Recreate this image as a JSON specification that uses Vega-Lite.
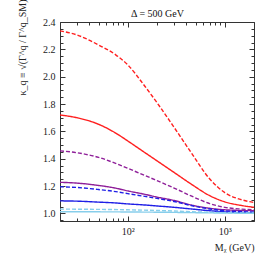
{
  "$schema": "https://vega.github.io/schema/vega-lite/v6.json",
  "autosize": "none",
  "width": 194,
  "height": 199,
  "padding": {"left": 60, "top": 22, "right": 12, "bottom": 45},
  "background": "white",
  "config": {
    "view": {"stroke": null},
    "font": "Liberation Serif",
    "axis": {"labelFont": "Liberation Serif", "titleFont": "Liberation Serif", "labelColor": "#222", "titleColor": "#222", "domainColor": "#333", "tickColor": "#333", "grid": false, "labelFontSize": 10, "titleFontSize": 10, "titleFontWeight": "normal"}
  },
  "data": {"values": [
    {"s":"rd","c":"red","d":"dashed","m":20,"k":2.335},{"s":"rd","c":"red","d":"dashed","m":30,"k":2.305},{"s":"rd","c":"red","d":"dashed","m":50,"k":2.232},{"s":"rd","c":"red","d":"dashed","m":75,"k":2.16},{"s":"rd","c":"red","d":"dashed","m":100,"k":2.086},{"s":"rd","c":"red","d":"dashed","m":150,"k":1.93},{"s":"rd","c":"red","d":"dashed","m":200,"k":1.81},{"s":"rd","c":"red","d":"dashed","m":300,"k":1.63},{"s":"rd","c":"red","d":"dashed","m":450,"k":1.445},{"s":"rd","c":"red","d":"dashed","m":700,"k":1.252},{"s":"rd","c":"red","d":"dashed","m":1000,"k":1.152},{"s":"rd","c":"red","d":"dashed","m":1500,"k":1.1},{"s":"rd","c":"red","d":"dashed","m":2000,"k":1.08},
    {"s":"rs","c":"red","d":"solid","m":20,"k":1.72},{"s":"rs","c":"red","d":"solid","m":30,"k":1.7},{"s":"rs","c":"red","d":"solid","m":50,"k":1.652},{"s":"rs","c":"red","d":"solid","m":75,"k":1.588},{"s":"rs","c":"red","d":"solid","m":100,"k":1.53},{"s":"rs","c":"red","d":"solid","m":150,"k":1.445},{"s":"rs","c":"red","d":"solid","m":200,"k":1.385},{"s":"rs","c":"red","d":"solid","m":300,"k":1.3},{"s":"rs","c":"red","d":"solid","m":450,"k":1.215},{"s":"rs","c":"red","d":"solid","m":700,"k":1.13},{"s":"rs","c":"red","d":"solid","m":1000,"k":1.085},{"s":"rs","c":"red","d":"solid","m":1500,"k":1.058},{"s":"rs","c":"red","d":"solid","m":2000,"k":1.045},
    {"s":"pd","c":"purple","d":"dashed","m":20,"k":1.458},{"s":"pd","c":"purple","d":"dashed","m":30,"k":1.444},{"s":"pd","c":"purple","d":"dashed","m":50,"k":1.41},{"s":"pd","c":"purple","d":"dashed","m":75,"k":1.366},{"s":"pd","c":"purple","d":"dashed","m":100,"k":1.33},{"s":"pd","c":"purple","d":"dashed","m":150,"k":1.278},{"s":"pd","c":"purple","d":"dashed","m":200,"k":1.24},{"s":"pd","c":"purple","d":"dashed","m":300,"k":1.186},{"s":"pd","c":"purple","d":"dashed","m":450,"k":1.128},{"s":"pd","c":"purple","d":"dashed","m":700,"k":1.072},{"s":"pd","c":"purple","d":"dashed","m":1000,"k":1.045},{"s":"pd","c":"purple","d":"dashed","m":1500,"k":1.032},{"s":"pd","c":"purple","d":"dashed","m":2000,"k":1.026},
    {"s":"ps","c":"purple","d":"solid","m":20,"k":1.228},{"s":"ps","c":"purple","d":"solid","m":30,"k":1.222},{"s":"ps","c":"purple","d":"solid","m":50,"k":1.205},{"s":"ps","c":"purple","d":"solid","m":75,"k":1.185},{"s":"ps","c":"purple","d":"solid","m":100,"k":1.165},{"s":"ps","c":"purple","d":"solid","m":150,"k":1.14},{"s":"ps","c":"purple","d":"solid","m":200,"k":1.12},{"s":"ps","c":"purple","d":"solid","m":300,"k":1.095},{"s":"ps","c":"purple","d":"solid","m":450,"k":1.062},{"s":"ps","c":"purple","d":"solid","m":700,"k":1.038},{"s":"ps","c":"purple","d":"solid","m":1000,"k":1.027},{"s":"ps","c":"purple","d":"solid","m":1500,"k":1.022},{"s":"ps","c":"purple","d":"solid","m":2000,"k":1.02},
    {"s":"bd","c":"blue","d":"dashed","m":20,"k":1.195},{"s":"bd","c":"blue","d":"dashed","m":30,"k":1.19},{"s":"bd","c":"blue","d":"dashed","m":50,"k":1.175},{"s":"bd","c":"blue","d":"dashed","m":75,"k":1.16},{"s":"bd","c":"blue","d":"dashed","m":100,"k":1.145},{"s":"bd","c":"blue","d":"dashed","m":150,"k":1.125},{"s":"bd","c":"blue","d":"dashed","m":200,"k":1.11},{"s":"bd","c":"blue","d":"dashed","m":300,"k":1.088},{"s":"bd","c":"blue","d":"dashed","m":450,"k":1.058},{"s":"bd","c":"blue","d":"dashed","m":700,"k":1.033},{"s":"bd","c":"blue","d":"dashed","m":1000,"k":1.02},{"s":"bd","c":"blue","d":"dashed","m":1500,"k":1.013},{"s":"bd","c":"blue","d":"dashed","m":2000,"k":1.01},
    {"s":"bs","c":"blue","d":"solid","m":20,"k":1.092},{"s":"bs","c":"blue","d":"solid","m":30,"k":1.09},{"s":"bs","c":"blue","d":"solid","m":50,"k":1.083},{"s":"bs","c":"blue","d":"solid","m":75,"k":1.077},{"s":"bs","c":"blue","d":"solid","m":100,"k":1.07},{"s":"bs","c":"blue","d":"solid","m":150,"k":1.062},{"s":"bs","c":"blue","d":"solid","m":200,"k":1.055},{"s":"bs","c":"blue","d":"solid","m":300,"k":1.045},{"s":"bs","c":"blue","d":"solid","m":450,"k":1.033},{"s":"bs","c":"blue","d":"solid","m":700,"k":1.02},{"s":"bs","c":"blue","d":"solid","m":1000,"k":1.012},{"s":"bs","c":"blue","d":"solid","m":1500,"k":1.007},{"s":"bs","c":"blue","d":"solid","m":2000,"k":1.005},
    {"s":"ld","c":"lightblue","d":"dashed","m":20,"k":1.032},{"s":"ld","c":"lightblue","d":"dashed","m":50,"k":1.03},{"s":"ld","c":"lightblue","d":"dashed","m":100,"k":1.027},{"s":"ld","c":"lightblue","d":"dashed","m":200,"k":1.022},{"s":"ld","c":"lightblue","d":"dashed","m":300,"k":1.018},{"s":"ld","c":"lightblue","d":"dashed","m":450,"k":1.013},{"s":"ld","c":"lightblue","d":"dashed","m":700,"k":1.009},{"s":"ld","c":"lightblue","d":"dashed","m":1000,"k":1.006},{"s":"ld","c":"lightblue","d":"dashed","m":2000,"k":1.003},
    {"s":"ls","c":"lightblue","d":"solid","m":20,"k":1.013},{"s":"ls","c":"lightblue","d":"solid","m":100,"k":1.011},{"s":"ls","c":"lightblue","d":"solid","m":300,"k":1.008},{"s":"ls","c":"lightblue","d":"solid","m":1000,"k":1.003},{"s":"ls","c":"lightblue","d":"solid","m":2000,"k":1.001}
  ]},
  "resolve": {"axis": {"x": "independent", "y": "independent"}},
  "layer": [
    {
      "mark": {"type": "line", "interpolate": "monotone", "strokeWidth": 1.4, "clip": true},
      "encoding": {
        "x": {"field": "m", "type": "quantitative", "scale": {"type": "log", "domain": [20, 2000], "nice": false},
          "axis": {"orient": "bottom", "title": "Mᵪ (GeV)", "values": [20,30,40,50,60,70,80,90,100,200,300,400,500,600,700,800,900,1000,2000],
            "labelExpr": "datum.value == 100 ? '10²' : datum.value == 1000 ? '10³' : ''", "labelOverlap": false, "labelFlush": false,
            "tickSize": {"condition": {"test": "datum.value == 100 || datum.value == 1000", "value": -5}, "value": -3},
            "labelPadding": 10, "titleAnchor": "end", "titleX": 194, "titleY": 26, "titleAlign": "right", "titleBaseline": "middle"}},
        "y": {"field": "k", "type": "quantitative", "scale": {"domain": [0.945, 2.4], "nice": false, "zero": false},
          "axis": {"orient": "left", "title": "κ_q ≡ √(Γ^q / Γ^q_SM)", "values": [0.95,1.0,1.05,1.1,1.15,1.2,1.25,1.3,1.35,1.4,1.45,1.5,1.55,1.6,1.65,1.7,1.75,1.8,1.85,1.9,1.95,2.0,2.05,2.1,2.15,2.2,2.25,2.3,2.35,2.4],
            "labelExpr": "abs(datum.value*5 - round(datum.value*5)) < 0.001 ? format(datum.value, '.1f') : ''", "labelOverlap": false, "labelFlush": false,
            "tickSize": {"condition": {"test": "abs(datum.value*5 - round(datum.value*5)) < 0.001", "value": -5}, "value": -3},
            "labelPadding": 10, "titleX": -38, "titleY": -23, "titleAngle": -90, "titleAlign": "right", "titleBaseline": "middle"}},
        "color": {"field": "c", "type": "nominal", "scale": {"domain": ["red", "purple", "blue", "lightblue"], "range": ["#ff1f1f", "#8f1f99", "#1f1fe6", "#87ceeb"]}, "legend": null},
        "strokeDash": {"field": "d", "type": "nominal", "scale": {"domain": ["solid", "dashed"], "range": [[1, 0], [4, 2]]}, "legend": null},
        "detail": {"field": "s"}
      }
    },
    {
      "mark": {"type": "line", "opacity": 0},
      "encoding": {
        "x": {"field": "m", "type": "quantitative", "scale": {"type": "log", "domain": [20, 2000], "nice": false},
          "axis": {"orient": "top", "title": "Δ = 500 GeV", "titleX": 97, "titleY": -6, "titleAlign": "center", "titleBaseline": "alphabetic", "titleColor": "#111", "labels": false, "values": [20,30,40,50,60,70,80,90,100,200,300,400,500,600,700,800,900,1000,2000],
            "tickSize": {"condition": {"test": "datum.value == 100 || datum.value == 1000", "value": -5}, "value": -3}}},
        "y": {"field": "k", "type": "quantitative", "scale": {"domain": [0.945, 2.4], "nice": false, "zero": false},
          "axis": {"orient": "right", "title": null, "labels": false, "values": [0.95,1.0,1.05,1.1,1.15,1.2,1.25,1.3,1.35,1.4,1.45,1.5,1.55,1.6,1.65,1.7,1.75,1.8,1.85,1.9,1.95,2.0,2.05,2.1,2.15,2.2,2.25,2.3,2.35,2.4],
            "tickSize": {"condition": {"test": "abs(datum.value*5 - round(datum.value*5)) < 0.001", "value": -5}, "value": -3}}},
        "detail": {"field": "s"}
      }
    }
  ]
}
